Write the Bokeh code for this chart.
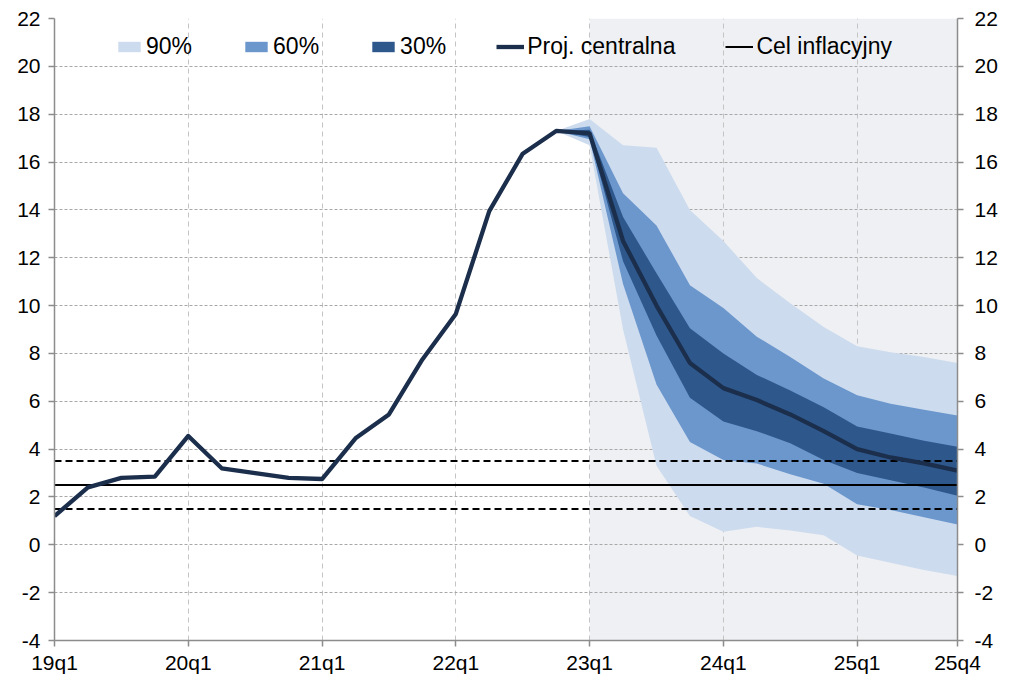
from bokeh.plotting import figure
from bokeh.models import (Range1d, LinearAxis, FixedTicker,
                          Legend, LegendItem, ColumnDataSource)
from bokeh.embed import file_html
from bokeh.resources import INLINE

# ---------------- data ----------------
quarters = ["19q1", "19q2", "19q3", "19q4", "20q1", "20q2", "20q3", "20q4",
            "21q1", "21q2", "21q3", "21q4", "22q1", "22q2", "22q3", "22q4",
            "23q1", "23q2", "23q3", "23q4", "24q1", "24q2", "24q3", "24q4",
            "25q1", "25q2", "25q3", "25q4"]

central = [1.2, 2.4, 2.8, 2.85, 4.55, 3.2, 3.0, 2.8,
           2.75, 4.45, 5.45, 7.75, 9.65, 13.95, 16.35, 17.3,
           17.2, 12.7, 10.0, 7.6, 6.55, 6.05, 5.45, 4.75,
           4.0, 3.65, 3.4, 3.1]

fan_quarters = quarters[15:]
band90_hi = [17.3, 17.8, 16.7, 16.6, 14.0, 12.7, 11.15, 10.1, 9.1, 8.3, 8.05, 7.85, 7.6]
band90_lo = [17.3, 16.7, 9.0, 3.3, 1.2, 0.55, 0.75, 0.6, 0.4, -0.45, -0.75, -1.05, -1.3]
band60_hi = [17.3, 17.5, 14.7, 13.35, 10.85, 9.9, 8.7, 7.85, 6.95, 6.25, 5.9, 5.65, 5.4]
band60_lo = [17.3, 16.95, 10.9, 6.7, 4.3, 3.55, 3.4, 2.95, 2.55, 1.7, 1.45, 1.15, 0.85]
band30_hi = [17.3, 17.35, 13.7, 11.35, 9.05, 8.0, 7.1, 6.45, 5.75, 4.95, 4.65, 4.35, 4.1]
band30_lo = [17.3, 17.05, 11.85, 8.75, 6.15, 5.15, 4.75, 4.25, 3.55, 3.0, 2.7, 2.4, 2.05]

forecast_start = "23q1"
inflation_target = 2.5
target_band = [1.5, 3.5]
y_min, y_max = -4, 22
y_ticks = [-4, -2, 0, 2, 4, 6, 8, 10, 12, 14, 16, 18, 20, 22]

legend_labels = ["90%", "60%", "30%", "Proj. centralna", "Cel inflacyjny"]

# ---------------- styling ----------------
FONT = "Liberation Sans"
C90 = "#cddbee"
C60 = "#6b97cd"
C30 = "#2e578c"
CLINE = "#1b2e4b"
CBG = "#eef0f3"
AXIS = "#8c8c8c"

n = len(quarters)
x_all = list(range(n))
x_fan = [quarters.index(q) for q in fan_quarters]
fs = quarters.index(forecast_start)

p = figure(frame_width=903, frame_height=622, output_backend="svg", toolbar_location=None,
           x_range=Range1d(0, n - 1), y_range=Range1d(y_min, y_max),
           min_border_left=54, min_border_right=0, min_border_top=18,
           min_border_bottom=0)
p.outline_line_color = None
p.background_fill_color = "white"
p.border_fill_color = "white"

# forecast shading (behind grid)
p.quad(left=[fs], right=[n - 1], bottom=[y_min], top=[y_max],
       fill_color=CBG, line_color=None, level="image")

src = ColumnDataSource(dict(x=x_fan, h90=band90_hi, l90=band90_lo, h60=band60_hi,
                            l60=band60_lo, h30=band30_hi, l30=band30_lo))
r90 = p.varea(x="x", y1="l90", y2="h90", source=src, fill_color=C90)
r60 = p.varea(x="x", y1="l60", y2="h60", source=src, fill_color=C60)
r30 = p.varea(x="x", y1="l30", y2="h30", source=src, fill_color=C30)

x_ends = [0, n - 1]
rt = p.line(x_ends, [inflation_target] * 2, line_color="black", line_width=2)
for b in target_band:
    p.line(x_ends, [b, b], line_color="black", line_width=2, line_dash="7 4")

rc = p.line(x_all, central, line_color=CLINE, line_width=4.3, line_join="round")

# ---------------- axes ----------------
year_idx = [i for i, q in enumerate(quarters) if q.endswith("q1")]
xticks = year_idx + [n - 1]
p.xaxis.ticker = FixedTicker(ticks=xticks)
p.xaxis.major_label_overrides = {i: quarters[i] for i in xticks}
p.xgrid.ticker = FixedTicker(ticks=year_idx[1:])

y_labels = {v: str(v) for v in y_ticks}
p.yaxis.ticker = FixedTicker(ticks=y_ticks)
p.yaxis.major_label_overrides = y_labels
p.ygrid.ticker = FixedTicker(ticks=y_ticks)

right = LinearAxis(ticker=FixedTicker(ticks=y_ticks), major_label_overrides=y_labels)
p.add_layout(right, "right")

for ax in p.axis:
    ax.axis_line_color = AXIS
    ax.axis_line_width = 1.5
    ax.major_tick_line_color = AXIS
    ax.major_tick_line_width = 1.5
    ax.major_tick_out = 6
    ax.major_tick_in = 0
    ax.minor_tick_line_color = None
    ax.major_label_text_font = FONT
    ax.major_label_text_font_size = "21px"
    ax.major_label_text_color = "black"
p.xaxis.major_label_standoff = 4
p.yaxis.major_label_standoff = 8
right.major_label_standoff = 11

p.xgrid.grid_line_color = "#c4c4c4"
p.xgrid.grid_line_dash = "5 4"
p.xgrid.grid_line_width = 1
p.ygrid.grid_line_color = "#a8a8a8"
p.ygrid.grid_line_dash = "3 2"
p.ygrid.grid_line_width = 1

# ---------------- legend ----------------
legend = Legend(items=[LegendItem(label=legend_labels[0], renderers=[r90]),
                       LegendItem(label=legend_labels[1], renderers=[r60]),
                       LegendItem(label=legend_labels[2], renderers=[r30]),
                       LegendItem(label=legend_labels[3], renderers=[rc]),
                       LegendItem(label=legend_labels[4], renderers=[rt])],
                orientation="horizontal", location=(61, 580))
legend.background_fill_alpha = 0
legend.border_line_color = None
legend.padding = 0
legend.margin = 0
legend.spacing = 50
legend.glyph_width = 28
legend.glyph_height = 13
legend.label_standoff = 3
legend.label_text_font = FONT
legend.label_text_font_size = "23px"
legend.label_text_color = "black"
legend.label_text_baseline = "middle"
p.add_layout(legend, "center")

open("out.html", "w").write(file_html(p, INLINE))
